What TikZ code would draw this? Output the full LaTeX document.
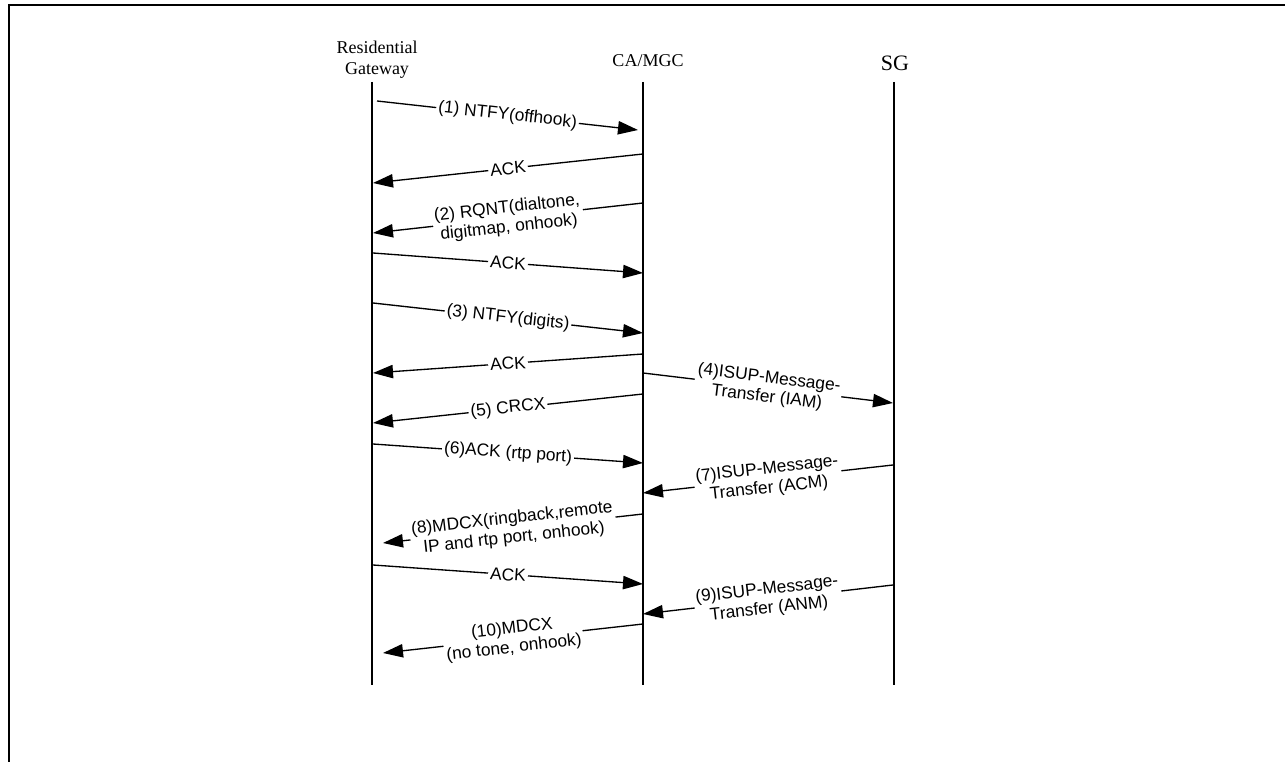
\documentclass[tikz,border=0pt]{standalone}
\usepackage{fontspec}
\setmainfont{Liberation Serif}
\newfontfamily\arialf{Liberation Sans}
\usetikzlibrary{arrows.meta}

\begin{document}
\begin{tikzpicture}[x=0.75pt, y=-0.75pt,
  hdr/.style={align=center, font=\fontsize{13.5}{15.5}\selectfont, inner sep=0pt},
  life/.style={line width=1pt},
  msg/.style={line width=1pt, -{Triangle[length=15pt, width=10pt]}},
  lbl/.style={sloped, fill=white, inner sep=1.5pt, align=center, font=\arialf\fontsize{13}{14.5}\selectfont}]
\useasboundingbox (0,0) rectangle (1285,762);
\draw[line width=1.5pt] (9,762) -- (9,5) -- (1285,5);
% entities
\node[hdr] (rg) at (377,60) {Residential\\Gateway};
\node[hdr] (ca) at (648,61) {CA/MGC};
\node[hdr, font=\fontsize{16.5}{18}\selectfont] (sg) at (895,63) {SG};
\coordinate (rgT) at (372,82); \coordinate (rgB) at (372,685);
\coordinate (caT) at (643,82); \coordinate (caB) at (643,685);
\coordinate (sgT) at (894,82); \coordinate (sgB) at (894,685);
\draw[life] (rgT) -- (rgB); \draw[life] (caT) -- (caB); \draw[life] (sgT) -- (sgB);
% message end points
\coordinate (m1a) at (377,101);  \coordinate (m1b) at (638,130);
\coordinate (m2a) at (643,154);  \coordinate (m2b) at (373,183);
\coordinate (m3a) at (643,203);  \coordinate (m3b) at (373,233);
\coordinate (m4a) at (373,253);  \coordinate (m4b) at (643,273);
\coordinate (m5a) at (373,303);  \coordinate (m5b) at (643,333);
\coordinate (m6a) at (643,354);  \coordinate (m6b) at (373,373);
\coordinate (m7a) at (643,373);  \coordinate (m7b) at (893,403);
\coordinate (m8a) at (643,394);  \coordinate (m8b) at (373,423);
\coordinate (m9a) at (373,444);  \coordinate (m9b) at (643,463);
\coordinate (m10a) at (893,465); \coordinate (m10b) at (643,493);
\coordinate (m11a) at (643,514); \coordinate (m11b) at (383,543);
\coordinate (m12a) at (373,565); \coordinate (m12b) at (643,584);
\coordinate (m13a) at (893,585); \coordinate (m13b) at (643,614);
\coordinate (m14a) at (643,624); \coordinate (m14b) at (383,653);
% messages
\draw[msg] (m1a) -- node[lbl] (l1) {(1) NTFY(offhook)} (m1b);
\draw[msg] (m2a) -- node[lbl] (l2) {ACK} (m2b);
\draw[msg] (m3a) -- node[lbl] (l3) {(2) RQNT(dialtone,\\digitmap, onhook)} (m3b);
\draw[msg] (m4a) -- node[lbl] (l4) {ACK} (m4b);
\draw[msg] (m5a) -- node[lbl] (l5) {(3) NTFY(digits)} (m5b);
\draw[msg] (m6a) -- node[lbl] (l6) {ACK} (m6b);
\draw[msg] (m7a) -- node[lbl] (l7) {(4)ISUP-Message-\\Transfer (IAM)} (m7b);
\draw[msg] (m8a) -- node[lbl] (l8) {(5) CRCX} (m8b);
\draw[msg] (m9a) -- node[lbl] (l9) {(6)ACK (rtp port)} (m9b);
\draw[msg] (m10a) -- node[lbl] (l10) {(7)ISUP-Message-\\Transfer (ACM)} (m10b);
\draw[msg] (m11a) -- node[lbl] (l11) {(8)MDCX(ringback,remote\\IP and rtp port, onhook)} (m11b);
\draw[msg] (m12a) -- node[lbl] (l12) {ACK} (m12b);
\draw[msg] (m13a) -- node[lbl] (l13) {(9)ISUP-Message-\\Transfer (ANM)} (m13b);
\draw[msg] (m14a) -- node[lbl] (l14) {(10)MDCX\\(no tone, onhook)} (m14b);
\end{tikzpicture}
\end{document}
